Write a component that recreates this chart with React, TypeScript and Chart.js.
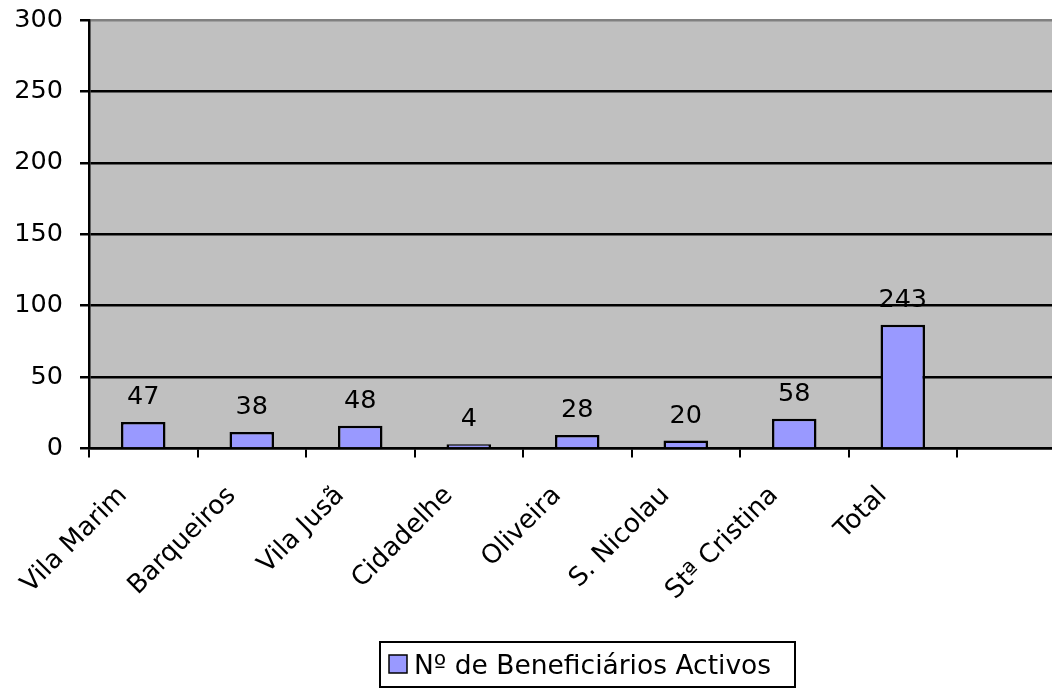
import React, { useEffect, useRef } from 'react';
import { Chart, registerables } from 'chart.js';

Chart.register(...registerables);

const categories: string[] = ['Vila Marim', 'Barqueiros', 'Vila Jusã', 'Cidadelhe', 'Oliveira', 'S. Nicolau', 'Stª Cristina', 'Total', ''];
const barValues: (number | null)[] = [18.5, 11.6, 15.9, 3.0, 9.5, 5.6, 20.8, 86.7, null];
const dataLabels: string[] = ['47', '38', '48', '4', '28', '20', '58', '243', ''];
const seriesName = 'Nº de Beneficiários Activos';
const yTicks = { min: 0, max: 300, step: 50 };

const FONT = '"DejaVu Sans", Verdana, sans-serif';
const FILL = '#9999FF';
const W = 1100;
const H = 689;

export default function App() {
  const ref = useRef<HTMLCanvasElement | null>(null);

  useEffect(() => {
    if (!ref.current) return;
    const labelPlugin = {
      id: 'extras',
      afterDatasetsDraw(chart: any) {
        const ctx = chart.ctx;
        const meta = chart.getDatasetMeta(0);
        ctx.save();
        ctx.font = `25.5px ${FONT}`;
        ctx.fillStyle = '#000';
        ctx.textAlign = 'center';
        ctx.textBaseline = 'alphabetic';
        meta.data.forEach((bar: any, i: number) => {
          if (!dataLabels[i] || barValues[i] == null) return;
          ctx.fillText(dataLabels[i], bar.x, bar.y - 18);
        });
        ctx.restore();
      },
      afterDraw(chart: any) {
        const ctx = chart.ctx;
        ctx.save();
        const bx = 380, by = 642, bw = 415, bh = 45;
        ctx.strokeStyle = '#000';
        ctx.lineWidth = 2;
        ctx.strokeRect(bx, by, bw, bh);
        ctx.fillStyle = FILL;
        ctx.fillRect(389, 655, 18, 18);
        ctx.lineWidth = 1.5;
        ctx.strokeRect(389, 655, 18, 18);
        ctx.fillStyle = '#000';
        ctx.font = `26.5px ${FONT}`;
        ctx.textAlign = 'left';
        ctx.textBaseline = 'alphabetic';
        ctx.fillText(seriesName, 414, 674);
        ctx.restore();
      },
    };

    const chart = new Chart(ref.current, {
      type: 'bar',
      data: {
        labels: categories,
        datasets: [
          {
            label: seriesName,
            data: barValues,
            backgroundColor: FILL,
            borderColor: '#000',
            borderWidth: 2.5,
            barPercentage: 0.41,
            categoryPercentage: 1,
          },
        ],
      },
      options: {
        responsive: false,
        animation: false,
        devicePixelRatio: 1,
        layout: { padding: { top: 20, right: W - 1065.5, left: 0, bottom: 0 } },
        plugins: {
          legend: { display: false },
          tooltip: { enabled: false },
        },
        scales: {
          x: {
            offset: true,
            grid: {
              offset: true,
              drawOnChartArea: false,
              drawTicks: true,
              tickLength: 9,
              tickColor: '#000',
              lineWidth: 2,
            },
            border: { display: true, color: '#000', width: 2.5 },
            ticks: {
              autoSkip: false,
              maxRotation: 45,
              minRotation: 45,
              color: '#000',
              font: { family: FONT, size: 26 },
              padding: 23,
              labelOffset: -20,
            },
            afterFit(scale: any) {
              scale.height = H - 448.5;
              scale.paddingLeft = 0;
              scale.paddingRight = 0;
            },
          },
          y: {
            min: yTicks.min,
            max: yTicks.max,
            ticks: {
              stepSize: yTicks.step,
              color: '#000',
              font: { family: FONT, size: 25.5 },
              padding: 17,
            },
            grid: {
              color: (c: any) => (c.tick && c.tick.value === yTicks.max ? '#808080' : '#000'),
              lineWidth: 2.5,
              tickLength: 9,
              tickColor: '#000',
            },
            border: { display: true, color: '#000', width: 2.5 },
            afterFit(scale: any) {
              scale.width = 89;
              scale.paddingTop = 0;
              scale.paddingBottom = 0;
            },
          },
        },
      },
      plugins: [
        {
          id: 'bg',
          beforeDraw(chart: any) {
            const { ctx, chartArea } = chart;
            ctx.save();
            ctx.fillStyle = '#C0C0C0';
            ctx.fillRect(chartArea.left, chartArea.top, chartArea.right - chartArea.left, chartArea.bottom - chartArea.top);
            ctx.restore();
          },
        },
        labelPlugin,
      ],
    } as any);
    return () => chart.destroy();
  }, []);

  return (
    <div style={{ position: 'fixed', left: 0, top: 0, width: 1052, height: H, overflow: 'hidden', background: '#fff' }}>
      <canvas ref={ref} width={W} height={H} style={{ display: 'block', width: W, height: H }} />
    </div>
  );
}
